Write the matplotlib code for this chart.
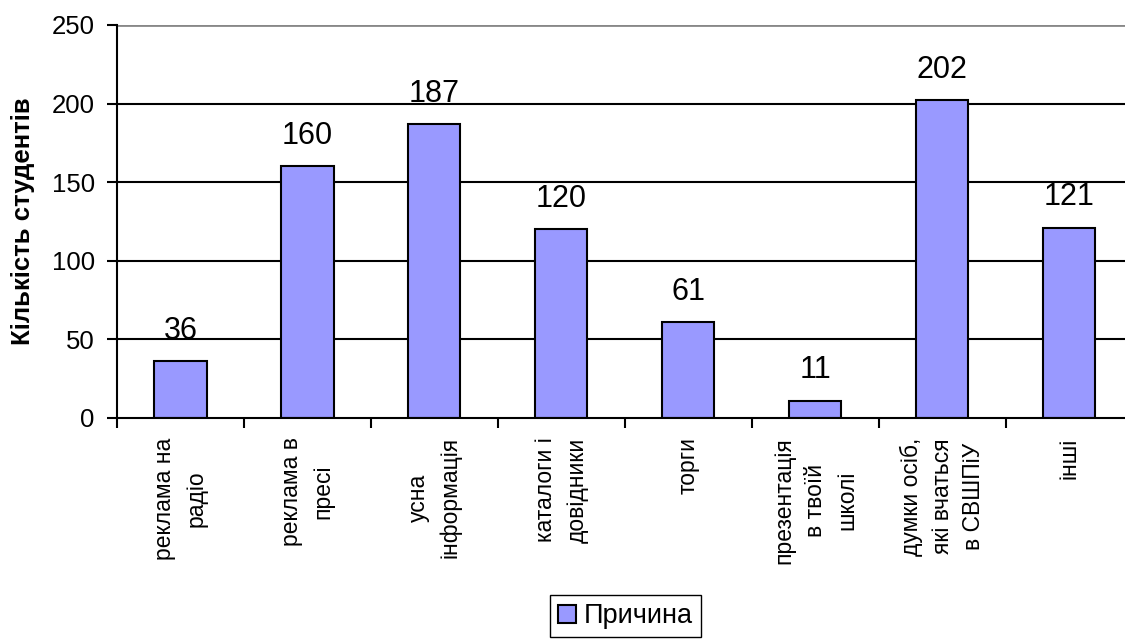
import numpy as np
import matplotlib
matplotlib.use("Agg")
import matplotlib.pyplot as plt

categories = [
    "реклама на\nрадіо",
    "реклама в\nпресі",
    "усна\nінформація",
    "каталоги і\nдовідники",
    "торги",
    "презентація\nв твоїй\nшколі",
    "думки осіб,\nякі вчаться\nв СВШПіУ",
    "інші",
]
values = [36, 160, 187, 120, 61, 11, 202, 121]
series_name = "Причина"
y_ticks = [0, 50, 100, 150, 200, 250]

plt.rcParams["font.family"] = ["Liberation Sans", "DejaVu Sans"]

fig = plt.figure(figsize=(11.25, 6.39), dpi=100)
ax = fig.add_axes([0.104, 0.346, 0.903, 0.615])

x = np.arange(len(categories))
ax.bar(x, values, width=0.41, color="#9999ff", edgecolor="black",
       linewidth=1.5, label=series_name, zorder=3)

ax.set_xlim(-0.5, len(categories) - 0.5)
ax.set_ylim(0, 250)
ax.set_yticks(y_ticks)
ax.tick_params(axis="y", labelsize=18.5, length=7, width=1.5, pad=9)

# grid lines: black, top one grey
for v in y_ticks[1:-1]:
    ax.axhline(v, color="black", linewidth=1.5, zorder=1)
ax.axhline(250, color="#888888", linewidth=2, zorder=1)

for side in ["top", "right"]:
    ax.spines[side].set_visible(False)
for side in ["left", "bottom"]:
    ax.spines[side].set_linewidth(1.5)
    ax.spines[side].set_zorder(4)

# category ticks between bars
ax.set_xticks(x)
ax.set_xticklabels(categories, rotation=90, fontsize=16.5, linespacing=1.45,
                   ha="center", va="top", multialignment="center")
ax.tick_params(axis="x", which="major", length=0, pad=14)
ax.set_xticks(np.arange(len(categories) + 1) - 0.5, minor=True)
ax.tick_params(axis="x", which="minor", length=7, width=1.5)

for xi, v in zip(x, values):
    ax.annotate(str(v), (xi, v), xytext=(0, 11), textcoords="offset points",
                ha="center", va="bottom", fontsize=22)

ax.set_ylabel("Кількість студентів", fontsize=18.5, fontweight="bold", labelpad=12)

fig.legend(loc="upper center", bbox_to_anchor=(0.556, 0.09), fontsize=19.5,
           frameon=True, fancybox=False, edgecolor="black", framealpha=1,
           handlelength=0.65, handleheight=0.65, handletextpad=0.3,
           borderpad=0.3)

fig.savefig("out.png", dpi=100)
